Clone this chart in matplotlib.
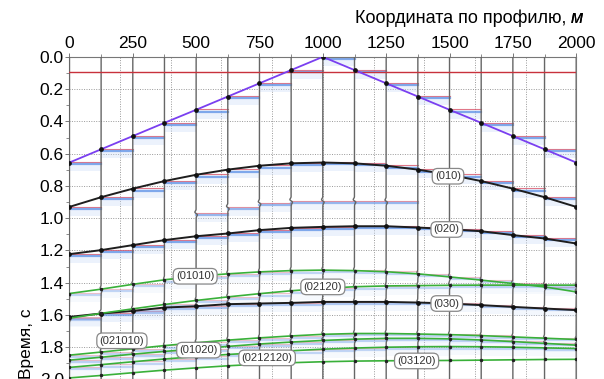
import numpy as np
import matplotlib.pyplot as plt
from matplotlib.ticker import MultipleLocator

plt.rcParams["font.family"] = ["Liberation Sans", "DejaVu Sans"]

# trace positions along the profile, m
x_tr = np.arange(0, 2001, 125)

# first arrival (direct wave) and the shallow horizontal event
t_direct = [0.655, 0.573, 0.491, 0.409, 0.328, 0.246, 0.164, 0.082, 0.0,
            0.082, 0.164, 0.246, 0.328, 0.409, 0.491, 0.573, 0.655]
t_flat = 0.093

# primary reflections
t_010 = [0.930, 0.870, 0.817, 0.770, 0.731, 0.699, 0.675, 0.660, 0.655,
         0.660, 0.675, 0.699, 0.731, 0.770, 0.817, 0.870, 0.930]
t_020 = [1.223, 1.198, 1.167, 1.136, 1.112, 1.095, 1.074, 1.060, 1.054,
         1.050, 1.050, 1.058, 1.068, 1.081, 1.105, 1.126, 1.157]
t_030 = [1.612, 1.591, 1.575, 1.554, 1.546, 1.533, 1.529, 1.525, 1.519,
         1.519, 1.519, 1.523, 1.529, 1.539, 1.550, 1.560, 1.570]

# multiples
t_01010 = [1.467, 1.440, 1.410, 1.382, 1.360, 1.345, 1.333, 1.325, 1.322,
           1.325, 1.332, 1.345, 1.364, 1.384, 1.405, 1.426, 1.457]
t_02120 = [1.620, 1.590, 1.562, 1.535, 1.510, 1.488, 1.468, 1.450, 1.436,
           1.425, 1.420, 1.418, 1.416, 1.415, 1.415, 1.415, 1.415]
t_021010 = [1.849, 1.830, 1.810, 1.790, 1.772, 1.756, 1.742, 1.730, 1.720,
            1.715, 1.715, 1.718, 1.722, 1.728, 1.736, 1.744, 1.752]
t_01020 = [1.880, 1.862, 1.843, 1.826, 1.810, 1.795, 1.780, 1.768, 1.758,
           1.750, 1.745, 1.745, 1.748, 1.755, 1.765, 1.776, 1.787]
t_0212120 = [1.925, 1.908, 1.890, 1.873, 1.858, 1.845, 1.833, 1.822, 1.812,
             1.805, 1.800, 1.797, 1.796, 1.797, 1.800, 1.804, 1.808]
t_03120 = [1.990, 1.975, 1.958, 1.942, 1.928, 1.915, 1.905, 1.896, 1.890,
           1.886, 1.884, 1.883, 1.882, 1.880, 1.878, 1.876, 1.875]

# weak event seen only as bars on the middle traces
ghost_tr = [4, 5, 6, 7, 8, 9, 10]
t_ghost = [0.971, 0.934, 0.905, 0.893, 0.893, 0.893, 0.895]

labels = ["(010)", "(020)", "(01010)", "(02120)", "(030)",
          "(021010)", "(01020)", "(0212120)", "(03120)"]
label_x = [1494, 1489, 496, 1000, 1489, 207, 510, 780, 1370]
label_t = [0.740, 1.070, 1.360, 1.426, 1.529, 1.760, 1.818, 1.866, 1.885]

fig = plt.figure(figsize=(6.04, 3.79), dpi=100)
ax = fig.add_axes([0.115, -0.0013, 0.839, 0.8513])
ax.set_xlim(0, 2000)
ax.set_ylim(2.0, 0.0)


def bars(times, idx=None, strength=1.0):
    # clipped variable-area swing of each trace toward its right neighbour
    if idx is None:
        idx = range(len(times) - 1)
        times = list(times)[:-1]
    for i, t in zip(idx, times):
        xa, xb = x_tr[i], x_tr[i] + 125
        ax.fill_between([xa, xb], t + 0.004, t + 0.055, color="#c9dbf7",
                        alpha=0.35 * strength, lw=0, zorder=1)
        ax.plot([xa, xb], [t - 0.002, t - 0.002], color="#d9556a",
                lw=0.8, alpha=0.8 * strength, zorder=2)
        ax.plot([xa, xb], [t + 0.012, t + 0.012], color="#5b8fe6",
                lw=1.6, alpha=0.75 * strength, zorder=2)


# dotted grid
for gx in range(200, 2000, 200):
    ax.axvline(gx, color="#999999", lw=0.7, ls=(0, (1, 1.5)), zorder=0)
for gy in np.arange(0.2, 2.0, 0.2):
    ax.axhline(gy, color="#999999", lw=0.7, ls=(0, (1, 1.5)), zorder=0)

bars(t_direct)
bars(t_010)
bars(t_020)
bars(t_030, strength=0.6)
bars(t_ghost, ghost_tr, strength=0.8)
for tm in [t_01010, t_02120, t_021010, t_01020, t_0212120]:
    bars(tm, strength=0.45)

# traces with small wavelet kinks at the weaker arrivals
tt = np.linspace(0, 2.0, 1200)
for i, xi in enumerate(x_tr):
    dx = np.zeros_like(tt)
    for ev in [t_01010, t_02120, t_030, t_021010, t_01020]:
        s = (tt - ev[i]) / 0.012
        dx += 9 * s * np.exp(-s ** 2)
    if i in ghost_tr:
        s = (tt - t_ghost[ghost_tr.index(i)]) / 0.012
        dx += 12 * s * np.exp(-s ** 2)
    ax.plot(xi + dx, tt, color="#666666", lw=1.0, zorder=3)

ax.axhline(t_flat, color="#c8323c", lw=1.0, zorder=4)
ax.plot(x_tr, t_direct, color="#7a3ff0", lw=1.3, zorder=5)
ax.plot(x_tr, t_direct, "o", color="#111111", ms=2.4, zorder=6)

for tm in [t_010, t_020, t_030]:
    ax.plot(x_tr, tm, color="#1e1e1e", lw=1.4, zorder=5)
    ax.plot(x_tr, tm, "o", color="#111111", ms=2.4, zorder=6)

for tm in [t_01010, t_02120, t_021010, t_01020, t_0212120, t_03120]:
    ax.plot(x_tr, tm, color="#39b039", lw=1.2, zorder=5)
    ax.plot(x_tr, tm, "o", color="#222222", ms=1.5, zorder=6)

for txt, lx, lt in zip(labels, label_x, label_t):
    ax.text(lx, lt, txt, fontsize=8, ha="center", va="center", color="#333333",
            zorder=8, bbox=dict(boxstyle="round,pad=0.25,rounding_size=0.5",
                                fc="white", ec="#888888", lw=0.9))

ax.xaxis.tick_top()
ax.xaxis.set_major_locator(MultipleLocator(250))
ax.xaxis.set_minor_locator(MultipleLocator(125))
ax.yaxis.set_major_locator(MultipleLocator(0.2))
ax.yaxis.set_minor_locator(MultipleLocator(0.1))
ax.yaxis.set_major_formatter(plt.FormatStrFormatter("%.1f"))
ax.tick_params(labelsize=12.5, length=3, width=0.7, color="#777777", pad=1)
ax.tick_params(which="minor", length=2, width=0.6, color="#777777")
for sp in ax.spines.values():
    sp.set_color("#777777")
    sp.set_linewidth(0.8)

# axis caption on top: plain text followed by an italic unit
unit = fig.text(0.966, 0.952, "м", fontsize=13, style="italic",
                ha="right", va="center")
fig.texts.append(unit)
ax.annotate("Координата по профилю, ", xy=(0, 0.5), xycoords=unit,
            fontsize=13, ha="right", va="center", annotation_clip=False)
ax.set_ylabel("Время, с", fontsize=12.5, loc="bottom", labelpad=4)

fig.savefig("out.png", dpi=100)
